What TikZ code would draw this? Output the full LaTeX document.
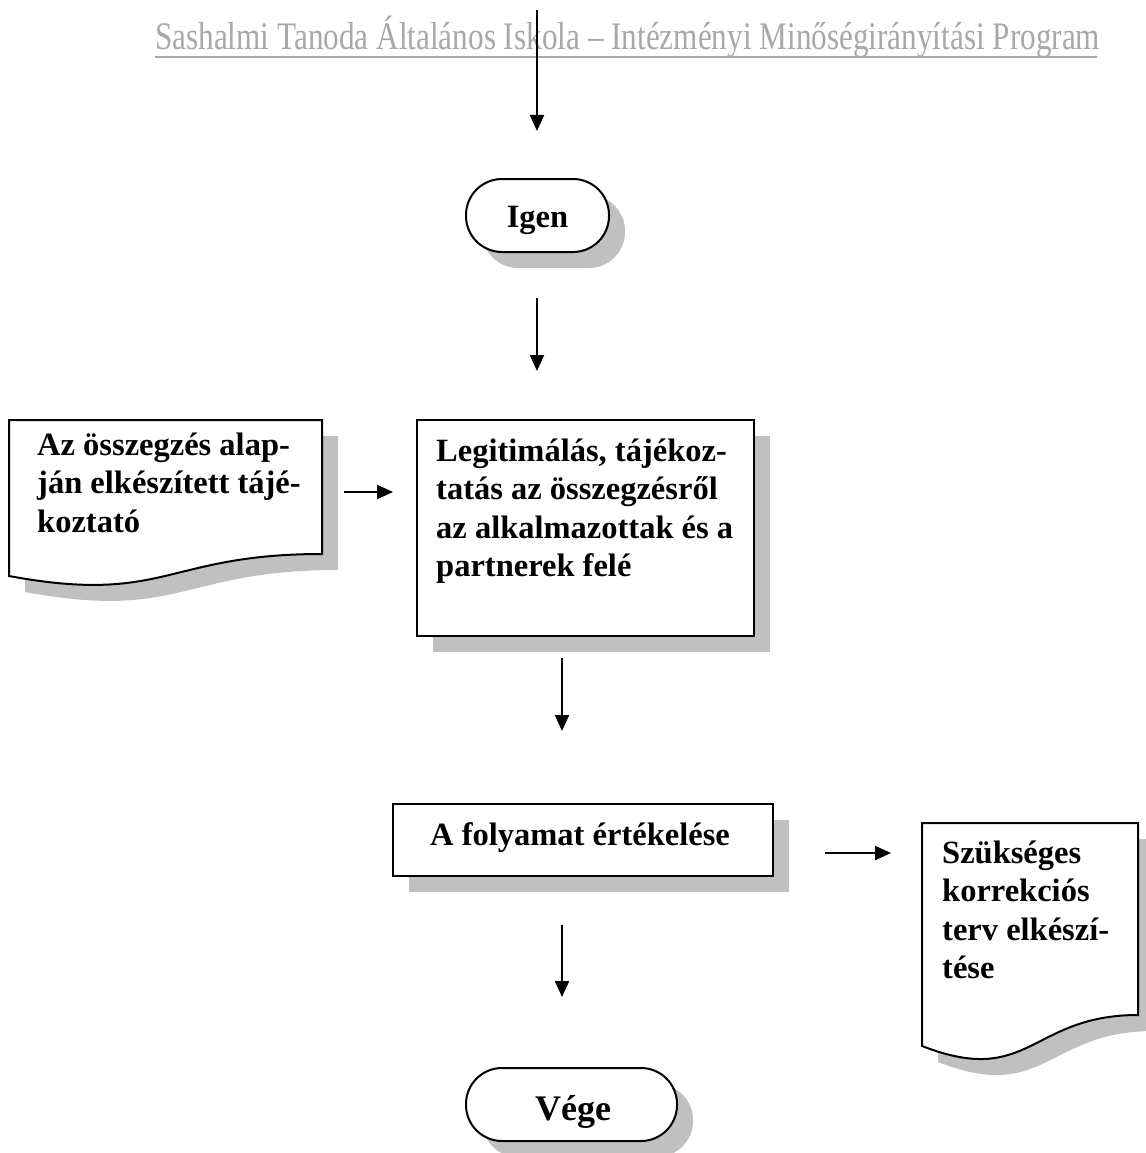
\documentclass[tikz,border=0pt]{standalone}
\usepackage{fontspec}
\setmainfont{Liberation Serif}
\usetikzlibrary{arrows.meta}
\definecolor{shadowgray}{RGB}{192,192,192}
\definecolor{headgray}{RGB}{168,168,168}
\begin{document}
\begin{tikzpicture}[x=1pt,y=-1pt,
  arr/.style={line width=2.2pt,-{Triangle[length=16pt,width=14pt]}},
  boxline/.style={draw=black,line width=2pt,fill=white},
  shadowfill/.style={fill=shadowgray,draw=none},
  txt/.style={anchor=base west,inner sep=0pt,font=\bfseries\fontsize{32.5}{38.5}\selectfont},
  ctxt/.style={anchor=base,inner sep=0pt,font=\bfseries\fontsize{32.5}{38.5}\selectfont}]
\useasboundingbox (0,0) rectangle (1145,1153);
\fill[white] (0,0) rectangle (1145,1153);

% header
\node[anchor=base west,inner sep=0pt,text=headgray] (header) at (155,50)
  {\scalebox{0.80}[1]{\fontsize{39}{39}\selectfont Sashalmi Tanoda Általános Iskola – Intézményi Minőségirányítási Program}};
\draw[headgray,line width=2pt] (155,57) -- (1097,57);

% Igen terminal
\fill[shadowfill,rounded corners=36pt] (482,195) rectangle (625,268);
\draw[boxline,rounded corners=36pt] (466,179) rectangle (609,252);
\node[ctxt] (igen) at (537.5,227) {Igen};

% left document
\fill[shadowfill] (25,436) -- (338,436) -- (338,570) .. controls (181.5,570) and (181.5,621) .. (25,592) -- cycle;
\draw[boxline] (9,420) -- (322,420) -- (322,554) .. controls (165.5,554) and (165.5,605) .. (9,576) -- cycle;
\node[txt] (leftdoc) at (37,455) {\parbox[t]{300pt}{\raggedright Az összegzés alap-\\ján elkészített tájé-\\koztató}};

% middle box
\fill[shadowfill] (433,436) rectangle (770,652);
\draw[boxline] (417,420) rectangle (754,636);
\node[txt] (legit) at (436,461) {\parbox[t]{330pt}{\raggedright Legitimálás, tájékoz-\\tatás az összegzésről\\az alkalmazottak és a\\partnerek felé}};

% folyamat box
\fill[shadowfill] (409,820) rectangle (789,892);
\draw[boxline] (393,804) rectangle (773,876);
\node[ctxt] (ertek) at (580,845) {A folyamat értékelése};

% right document
\fill[shadowfill] (938,839) -- (1154,839) -- (1154,1031) .. controls (1046,1031) and (1046,1104) .. (938,1062) -- cycle;
\draw[boxline] (922,823) -- (1138,823) -- (1138,1015) .. controls (1030,1015) and (1030,1088) .. (922,1046) -- cycle;
\node[txt] (korr) at (942,863) {\parbox[t]{200pt}{\raggedright Szükséges\\korrekciós\\terv elkészí-\\tése}};

% Vege terminal
\fill[shadowfill,rounded corners=36pt] (482,1084) rectangle (693,1157);
\draw[boxline,rounded corners=36pt] (466,1068) rectangle (677,1141);
\node[anchor=base,inner sep=0pt,font=\bfseries\fontsize{36}{40}\selectfont] (vege) at (573,1120) {Vége};

% arrows
\coordinate (a1s) at (537,10);   \coordinate (a1e) at (537,131);
\coordinate (a2s) at (537,298);  \coordinate (a2e) at (537,371);
\coordinate (a3s) at (562,658);  \coordinate (a3e) at (562,731);
\coordinate (a4s) at (562,925);  \coordinate (a4e) at (562,997);
\coordinate (h1s) at (344,492);  \coordinate (h1e) at (393,492);
\coordinate (h2s) at (825,853);  \coordinate (h2e) at (891,853);
\draw[arr] (a1s) -- (a1e);
\draw[arr] (a2s) -- (a2e);
\draw[arr] (a3s) -- (a3e);
\draw[arr] (a4s) -- (a4e);
\draw[arr] (h1s) -- (h1e);
\draw[arr] (h2s) -- (h2e);
\end{tikzpicture}
\end{document}
